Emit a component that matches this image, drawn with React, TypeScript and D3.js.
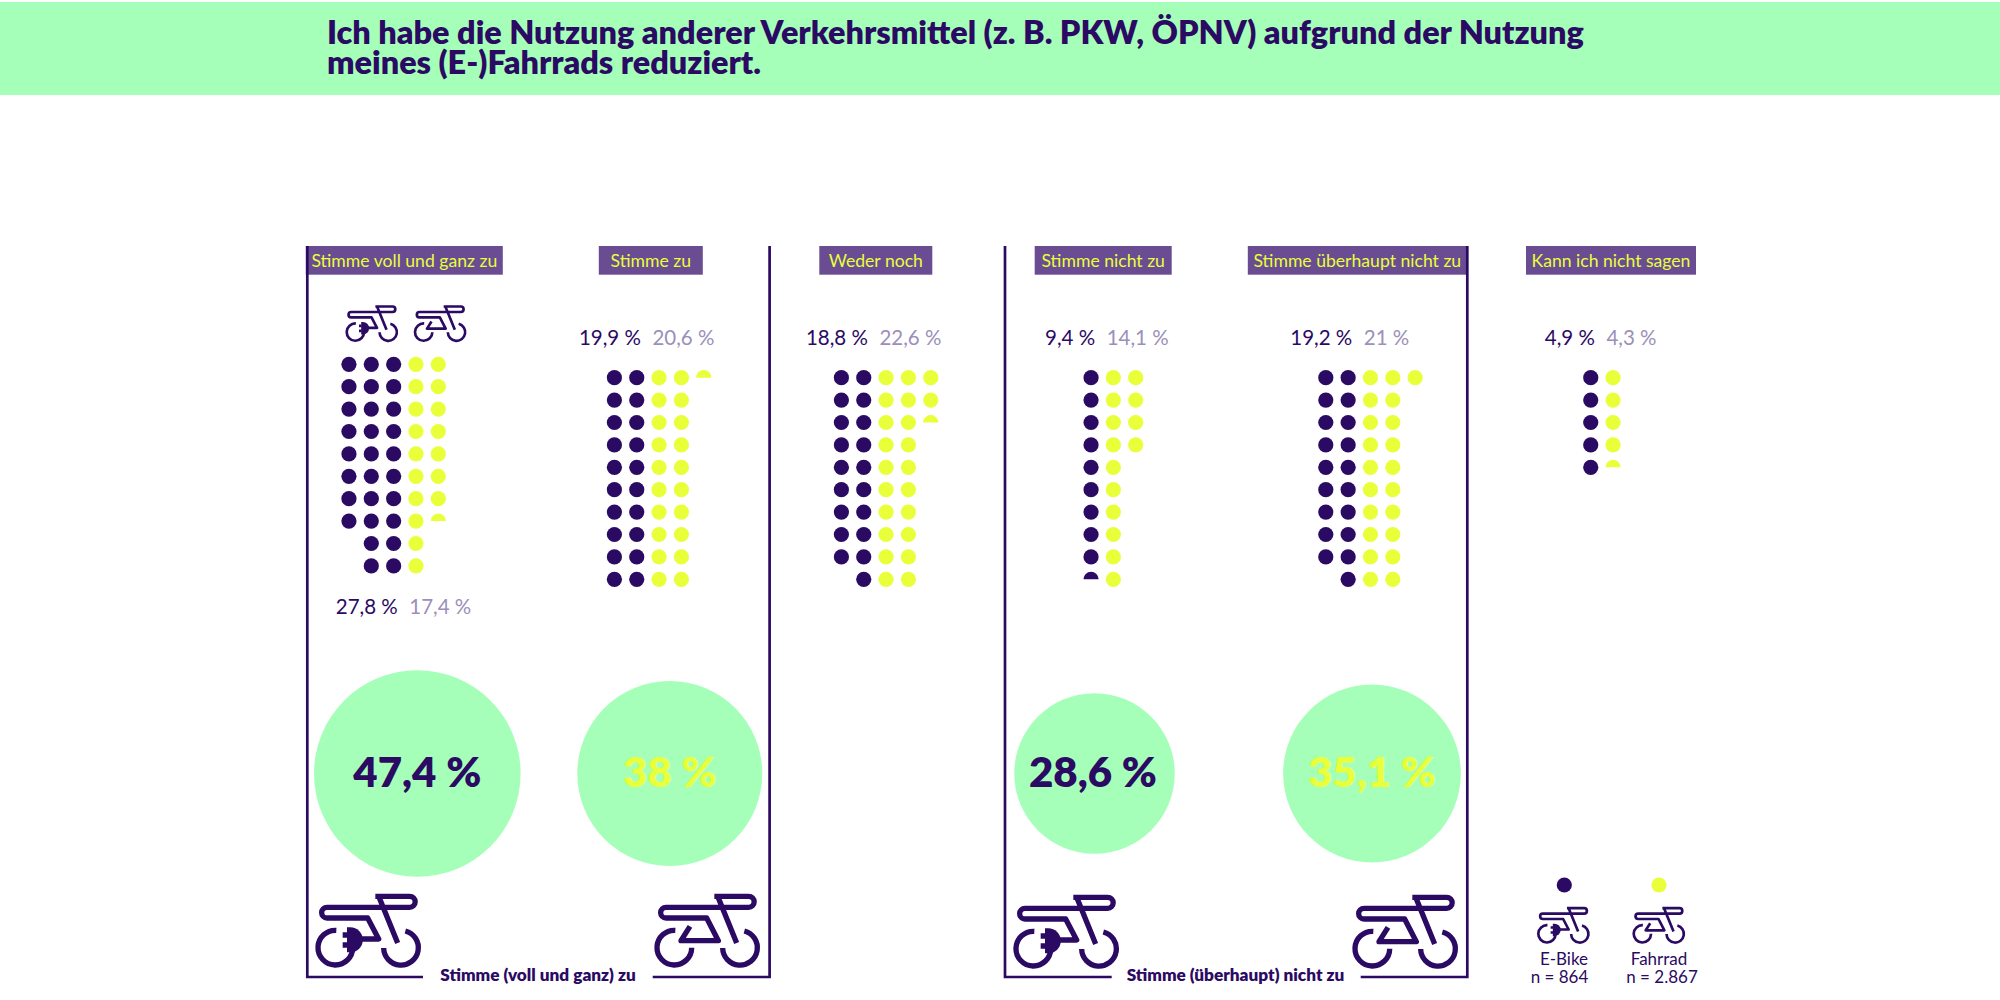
import * as d3 from 'd3';
import { useEffect, useRef } from 'react';

const categories = ['Stimme voll und ganz zu', 'Stimme zu', 'Weder noch', 'Stimme nicht zu', 'Stimme überhaupt nicht zu', 'Kann ich nicht sagen'];
const eBikeValues = [27.8, 19.9, 18.8, 9.4, 19.2, 4.9];
const bikeValues = [17.4, 20.6, 22.6, 14.1, 21, 4.3];

const summaryCategories = ['voll', 'zu', 'nicht', 'ueberhaupt'];
const summaryValues = [47.4, 38, 28.6, 35.1];
const summaryColors = ['#2b0a63', '#e8ff3a', '#2b0a63', '#e8ff3a'];

const titleLines = [
  'Ich habe die Nutzung anderer Verkehrsmittel (z. B. PKW, ÖPNV) aufgrund der Nutzung',
  'meines (E-)Fahrrads reduziert.',
];

const DARK = '#2b0a63';
const LIME = '#e8ff3a';
const MINT = '#a6ffb9';
const BOX = '#6a4c93';
const MUTED = '#9b90ba';
const FONT = 'Lato, "Noto Sans", sans-serif';

const ROWS = 10;

// a dot is one percent, leftovers show as a half dot
function dotsFor(value: number) {
  const whole = Math.floor(value);
  const frac = +(value - whole).toFixed(1);
  const full = frac >= 0.7 ? whole + 1 : whole;
  const half = frac >= 0.3 && frac < 0.7;
  return d3.range(full + (half ? 1 : 0)).map((i) => ({
    col: Math.floor(i / ROWS),
    row: i % ROWS,
    half: half && i === full,
  }));
}

const frameD = 'M195 32H298A16.5 16.5 0 0 1 298 65H50A16 16 0 0 0 50 97H172';
const wheelsD = 'M78 134A52 52 0 1 0 127 186M285 136A52 52 0 1 1 220 187M205 32L262 172';
const bikeD = `${frameD}L207 165H95L122 122${wheelsD}`;
const eBikeD = `${frameD}L205 160H150${wheelsD}M97 148H113M97 178H113`;
const plugD = 'M110 125H120A37.5 37.5 0 0 1 120 200H110Z';

export default function App() {
  const ref = useRef<SVGSVGElement | null>(null);

  useEffect(() => {
    if (!ref.current) return;
    const svg = d3.select(ref.current);
    svg.selectAll('*').remove();

    const x = d3.scaleOrdinal<string, number>().domain(categories).range([404.8, 647.9, 874.9, 1102.2, 1359.3, 1601.9]);
    const boxX = d3.scaleOrdinal<string, number>().domain(categories).range([404.3, 650.8, 875.8, 1103.2, 1357.3, 1611]);
    const boxW = d3.scaleOrdinal<string, number>().domain(categories).range([197, 104, 113, 137, 219, 170]);
    const topY = d3.scaleOrdinal<string, number>().domain(categories).range([364.3, 377.7, 377.7, 377.7, 377.7, 377.7]);
    const colX = d3.scaleLinear().domain([0, 1]).range([11.15, 33.5]);
    const rowY = d3.scaleLinear().domain([0, ROWS - 1]).range([0, 201.6]);
    const summaryX = d3.scaleOrdinal<string, number>().domain(summaryCategories).range([417.3, 669.8, 1094.5, 1372]);
    const radius = d3.scaleSqrt().domain([0, 47.4]).range([0, 103.3]);
    const halfDot = d3.arc()({ innerRadius: 0, outerRadius: 7.6, startAngle: -Math.PI / 2, endAngle: Math.PI / 2 }) as string;

    // title band
    svg.append('rect').attr('x', 0).attr('y', 2).attr('width', 2000).attr('height', 93).attr('fill', MINT);
    svg
      .selectAll('text.title')
      .data(titleLines)
      .enter()
      .append('text')
      .attr('class', 'title')
      .attr('x', 327)
      .attr('y', (_, i) => 44 + i * 30)
      .attr('font-size', 32.4)
      .attr('font-weight', 800)
      .attr('font-family', FONT)
      .attr('fill', DARK)
      .text((d) => d);

    // category boxes
    categories.forEach((c) => {
      svg
        .append('rect')
        .attr('x', boxX(c) - boxW(c) / 2)
        .attr('y', 246)
        .attr('width', boxW(c))
        .attr('height', 28.7)
        .attr('fill', BOX);
      svg
        .append('text')
        .attr('x', boxX(c))
        .attr('y', 266.5)
        .attr('text-anchor', 'middle')
        .attr('font-size', 17.6)
        .attr('font-family', FONT)
        .attr('fill', LIME)
        .text(c);
    });

    // panels around agree / disagree
    const panel = (x0: number, x1: number, gap0: number, gap1: number) =>
      `M${x0} 246V977H${gap0}M${gap1} 977H${x1}V246`;
    svg
      .selectAll('path.panel')
      .data([panel(307.3, 769.6, 423, 652.7), panel(1005, 1467.3, 1111.7, 1360.7)])
      .enter()
      .append('path')
      .attr('class', 'panel')
      .attr('d', (d) => d)
      .attr('fill', 'none')
      .attr('stroke', DARK)
      .attr('stroke-width', 2.7);
    svg
      .selectAll('text.panel-label')
      .data([
        { label: 'Stimme (voll und ganz) zu', x: 538 },
        { label: 'Stimme (überhaupt) nicht zu', x: 1235.5 },
      ])
      .enter()
      .append('text')
      .attr('class', 'panel-label')
      .attr('x', (d) => d.x)
      .attr('y', 981)
      .attr('text-anchor', 'middle')
      .attr('font-size', 17.2)
      .attr('font-weight', 800)
      .attr('font-family', FONT)
      .attr('fill', DARK)
      .text((d) => d.label);

    // dots and percent labels
    categories.forEach((c, i) => {
      const mid = x(c);
      const g = svg.append('g').attr('transform', `translate(${mid},${topY(c)})`);
      [
        { dots: dotsFor(eBikeValues[i]), side: -1, color: DARK },
        { dots: dotsFor(bikeValues[i]), side: 1, color: LIME },
      ].forEach(({ dots, side, color }) => {
        g.append('g')
          .selectAll('path')
          .data(dots.filter((d) => d.half))
          .enter()
          .append('path')
          .attr('d', halfDot)
          .attr('transform', (d) => `translate(${side * colX(d.col)},${rowY(d.row)})`)
          .attr('fill', color);
        g.append('g')
          .selectAll('circle')
          .data(dots.filter((d) => !d.half))
          .enter()
          .append('circle')
          .attr('cx', (d) => side * colX(d.col))
          .attr('cy', (d) => rowY(d.row))
          .attr('r', 7.6)
          .attr('fill', color);
      });
      const labelY = i === 0 ? 614 : 344.5;
      const fmt = (v: number) => `${String(v).replace('.', ',')} %`;
      svg
        .append('text')
        .attr('x', mid - 7)
        .attr('y', labelY)
        .attr('text-anchor', 'end')
        .attr('font-size', 20.5)
        .attr('font-family', FONT)
        .attr('fill', DARK)
        .text(fmt(eBikeValues[i]));
      svg
        .append('text')
        .attr('x', mid + 4.5)
        .attr('y', labelY)
        .attr('font-size', 20.5)
        .attr('font-family', FONT)
        .attr('fill', MUTED)
        .text(fmt(bikeValues[i]));
    });

    // summary circles
    summaryCategories.forEach((c, i) => {
      svg.append('circle').attr('cx', summaryX(c)).attr('cy', 773.5).attr('r', radius(summaryValues[i])).attr('fill', MINT);
      svg
        .append('text')
        .attr('x', summaryX(c) - (i === 2 ? 1.5 : 0))
        .attr('y', 787)
        .attr('text-anchor', 'middle')
        .attr('font-size', 42)
        .attr('font-weight', 800)
        .attr('font-family', FONT)
        .attr('fill', summaryColors[i])
        .text(`${String(summaryValues[i]).replace('.', ',')} %`);
    });

    // bike icons, paths are in a 3x grid
    const icon = (px: number, py: number, k: number, electric: boolean) => {
      const g = svg
        .append('g')
        .attr('transform', `translate(${px},${py}) scale(${k}) translate(-17,-25)`);
      g.append('path')
        .attr('d', electric ? eBikeD : bikeD)
        .attr('fill', 'none')
        .attr('stroke', DARK)
        .attr('stroke-width', 16)
        .attr('stroke-linejoin', 'round');
      if (electric) g.append('path').attr('d', plugD).attr('fill', DARK);
    };
    icon(316, 894, 1 / 3, true);
    icon(655, 894, 1 / 3, false);
    icon(1014, 895, 1 / 3, true);
    icon(1353, 895, 1 / 3, false);
    icon(345.7, 305.3, 1 / 6, true);
    icon(414, 305.3, 1 / 6, false);
    icon(1537.3, 907, 1 / 6, true);
    icon(1632.7, 907, 1 / 6, false);

    // legend
    svg.append('circle').attr('cx', 1564.3).attr('cy', 885).attr('r', 7.6).attr('fill', DARK);
    svg.append('circle').attr('cx', 1659).attr('cy', 885).attr('r', 7.6).attr('fill', LIME);
    svg
      .selectAll('text.legend')
      .data([
        { t: 'E-Bike', x: 1564, y: 965 },
        { t: 'n = 864', x: 1559.5, y: 983 },
        { t: 'Fahrrad', x: 1659, y: 965 },
        { t: 'n = 2.867', x: 1662, y: 983 },
      ])
      .enter()
      .append('text')
      .attr('class', 'legend')
      .attr('x', (d) => d.x)
      .attr('y', (d) => d.y)
      .attr('text-anchor', 'middle')
      .attr('font-size', 17)
      .attr('font-family', FONT)
      .attr('fill', DARK)
      .text((d) => d.t);
  }, []);

  return <svg ref={ref} width={2000} height={1000} style={{ position: 'absolute', left: 0, top: 0 }} />;
}
